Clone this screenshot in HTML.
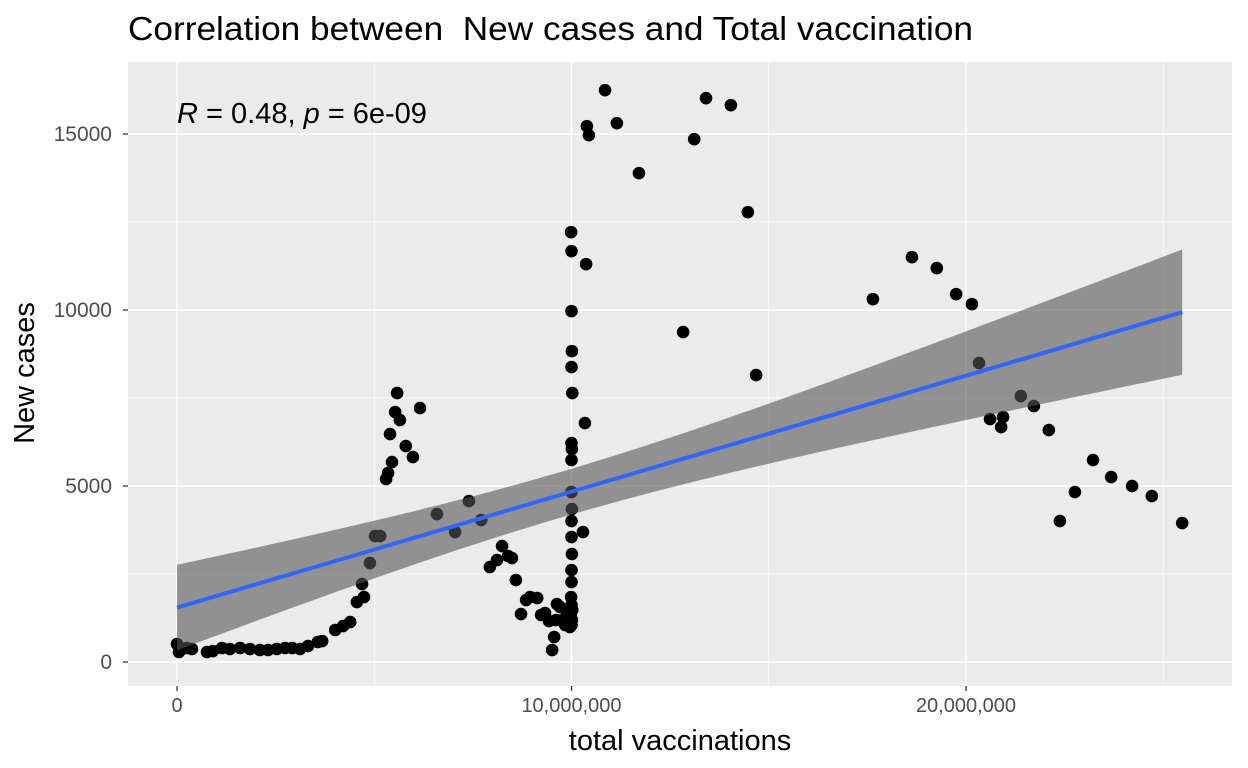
<!DOCTYPE html>
<html><head><meta charset="utf-8"><style>
html,body{margin:0;padding:0;background:#fff;}
svg{display:block;font-family:"Liberation Sans",sans-serif;}
</style></head><body>
<svg id="chart" width="1248" height="768">
<text x="128" y="40" font-size="33" textLength="845" lengthAdjust="spacingAndGlyphs" fill="#000" xml:space="preserve">Correlation between  New cases and Total vaccination</text>
<text x="680" y="750" font-size="29" text-anchor="middle" fill="#000">total vaccinations</text>
<text x="0" y="0" font-size="29" text-anchor="middle" fill="#000" transform="translate(34,373) rotate(-90)">New cases</text>
</svg>
<script>
const xVals=[0,0.05,0.25,0.38,0.76,0.91,1.14,1.34,1.60,1.85,2.10,2.31,2.53,2.74,2.92,3.12,3.32,3.57,3.68,4.01,4.21,4.39,4.56,4.74,4.69,4.89,5.02,5.15,5.30,5.35,5.40,5.45,5.53,5.58,5.65,5.80,5.98,6.16,6.59,7.05,7.40,7.71,7.93,8.11,8.24,8.39,8.49,8.59,8.72,8.85,8.95,9.13,9.23,9.33,9.43,9.51,9.56,9.63,9.61,9.71,9.76,9.84,9.89,9.96,
9.99,10.0,10.0,10.01,10.0,10.02,10.0,10.01,10.0,10.0,10.01,10.0,10.0,10.01,10.0,10.0,9.99,10.0,10.02,9.98,10.01,10.0,
10.29,10.34,10.37,10.39,10.44,10.85,11.15,11.71,12.83,13.11,13.41,14.04,14.47,14.68,17.64,18.63,19.26,19.75,20.15,20.33,20.61,20.89,20.94,21.39,21.72,22.10,22.38,22.76,23.22,23.68,24.21,24.71,25.48];
const yVals=[511,284,398,369,284,312,398,369,398,369,341,341,369,398,398,369,454,568,596,909,1022,1136,1704,1846,2215,2812,3578,3578,5197,5368,6475,5680,7100,7640,6873,6134,5822,7214,4203,3692,4572,4033,2698,2897,3294,3010,2954,2329,1363,1761,1846,1818,1335,1392,1164,341,710,1647,1193,1562,1193,1051,1420,994,
12212,11672,9968,8832,8378,7640,6220,6049,5737,4828,4345,4004,3550,3067,2613,2272,1846,1619,1477,1335,1193,1051,
3692,6788,11303,15222,14967,16245,15308,13888,9372,14853,16018,15819,12780,8151,10309,11502,11190,10451,10167,8492,6901,6674,6958,7554,7270,6589,4004,4828,5737,5254,4998,4714,3948];
const xTicks=[0,10,20];
const xTickLabels=["0","10,000,000","20,000,000"];
const yTicks=[0,5000,10000,15000];
const yTickLabels=["0","5000","10000","15000"];

const NS="http://www.w3.org/2000/svg";
const svg=document.getElementById('chart');
const L=128,R=1232,T=62,B=686;
const sx=v=>177+v*39.45;
const sy=v=>662-v*0.0352;
function el(tag,attrs,parent){const e=document.createElementNS(NS,tag);for(const k in attrs)e.setAttribute(k,attrs[k]);(parent||svg).appendChild(e);return e;}

const panel=el('rect',{x:L,y:T,width:R-L,height:B-T,fill:'#EBEBEB'});


[5,15,25].forEach(v=>{const g=el('line',{x1:sx(v),x2:sx(v),y1:T,y2:B,stroke:'#fff','stroke-width':0.7});

});
[2500,7500,12500].forEach(v=>{const g=el('line',{x1:L,x2:R,y1:sy(v),y2:sy(v),stroke:'#fff','stroke-width':0.7});

});
xTicks.forEach((v,i)=>{const g=el('line',{x1:sx(v),x2:sx(v),y1:T,y2:B,stroke:'#fff','stroke-width':1.5});


el('line',{x1:sx(v),x2:sx(v),y1:B,y2:B+5,stroke:'#333','stroke-width':1.3});
const t=el('text',{x:sx(v),y:B+26,'text-anchor':'middle','font-size':20,fill:'#4d4d4d'});t.textContent=xTickLabels[i];

});
yTicks.forEach((v,i)=>{const g=el('line',{x1:L,x2:R,y1:sy(v),y2:sy(v),stroke:'#fff','stroke-width':1.5});


el('line',{x1:L-5,x2:L,y1:sy(v),y2:sy(v),stroke:'#333','stroke-width':1.3});
const t=el('text',{x:L-16,y:sy(v)+7,'text-anchor':'end','font-size':21,fill:'#4d4d4d'});t.textContent=yTickLabels[i];

});

const n=xVals.length;let mx=0,my=0;for(let i=0;i<n;i++){mx+=xVals[i];my+=yVals[i];}mx/=n;my/=n;
let sxx=0,sxy=0;for(let i=0;i<n;i++){sxx+=(xVals[i]-mx)**2;sxy+=(xVals[i]-mx)*(yVals[i]-my);}
const b=sxy/sxx,a=my-b*mx;let sse=0;for(let i=0;i<n;i++)sse+=(yVals[i]-a-b*xVals[i])**2;
const s=Math.sqrt(sse/(n-2));
const xmin=Math.min(...xVals),xmax=Math.max(...xVals);
let up=[],lo=[];for(let k=0;k<=80;k++){const x=xmin+(xmax-xmin)*k/80;const f=a+b*x;const se=1.85*s*Math.sqrt(1/n+(x-mx)**2/sxx);
up.push(sx(x)+','+sy(f+se));lo.unshift(sx(x)+','+sy(f-se));}
xVals.forEach((x,i)=>{const c=el('circle',{cx:sx(x),cy:sy(yVals[i]),r:6.3,fill:'#000'});

});
const band=el('polygon',{points:up.concat(lo).join(' '),fill:'#555','fill-opacity':0.6});


const rl=el('line',{x1:sx(xmin),y1:sy(a+b*xmin),x2:sx(xmax),y2:sy(a+b*xmax),stroke:'#3366FF','stroke-width':4});


const ann=el('text',{x:177,y:123,'font-size':29,fill:'#000'});


ann.innerHTML='<tspan font-style="italic">R</tspan> = 0.48, <tspan font-style="italic">p</tspan> = 6e-09';
</script>
</body></html>
